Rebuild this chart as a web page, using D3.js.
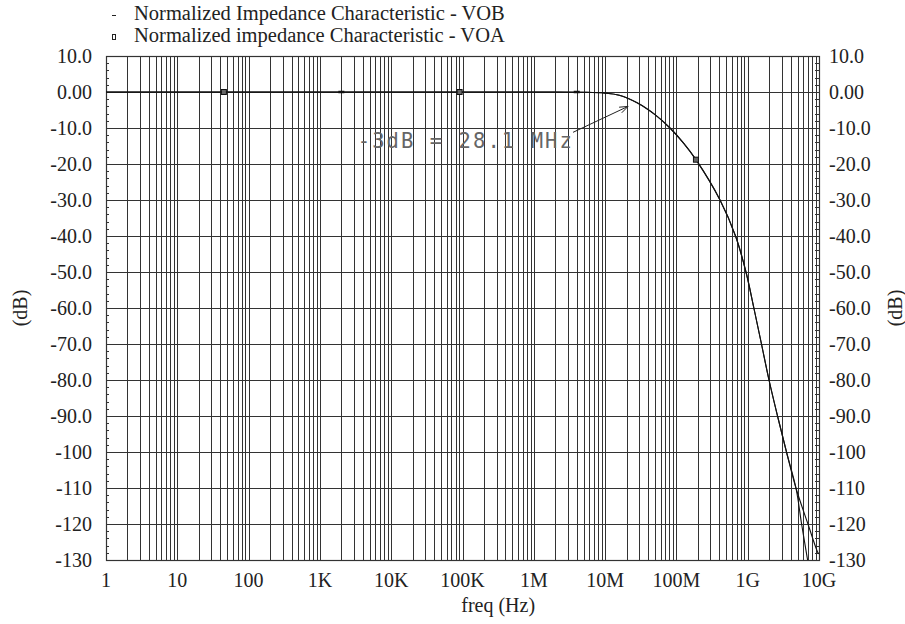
<!DOCTYPE html>
<html>
<head>
<meta charset="utf-8">
<script src="https://cdn.jsdelivr.net/npm/d3@7"></script>
<style>
  body { margin: 0; background: #fff; }
  svg { display: block; }
</style>
</head>
<body>
<div id="vis"></div>
<script>
// shared part of both traces (Hz, dB)
var freqShared = [1, 1e3, 1e5, 1e6, 5e6, 1e7, 1.58e7, 2.81e7, 5.01e7, 8.13e7, 1.26e8, 1.88e8, 4.09e8, 6.75e8, 9.46e8, 1.22e9, 1.56e9, 1.99e9, 2.62e9, 3.5e9, 4.75e9];
var dbShared   = [0, 0, 0, 0, -0.05, -0.3, -0.9, -3, -6.3, -10, -14.2, -18.8, -30, -40, -50, -60, -70, -80, -90, -100, -110];
// tails where the traces split
var freqVOA = [5.7e9, 6.84e9, 7.05e9];
var dbVOA   = [-120, -129.4, -131];
var freqVOB = [7.0e9, 9.68e9, 1e10];
var dbVOB   = [-120, -128, -128.3];
// marker positions
var markVOA = [[45, 0], [9.1e4, 0], [1.88e8, -18.8]];
var markVOB = [[2e3, 0], [4e6, 0]];

var decadeLabels = ["1", "10", "100", "1K", "10K", "100K", "1M", "10M", "100M", "1G", "10G"];
var yTicks = [10, 0, -10, -20, -30, -40, -50, -60, -70, -80, -90, -100, -110, -120, -130];
var yTickLabels = ["10.0", "0.00", "-10.0", "-20.0", "-30.0", "-40.0", "-50.0", "-60.0", "-70.0", "-80.0", "-90.0", "-100", "-110", "-120", "-130"];
var legendNames = ["Normalized Impedance Characteristic - VOB", "Normalized impedance Characteristic - VOA"];
var note = {text: "-3dB = 28.1 MHz", textF: 3.4e3, textDb: -15.6, tailF: 3.55e6, tailDb: -11.2, tipF: 2.1e7, tipDb: -4};

var serif = "'Liberation Serif', 'Times New Roman', serif";
var margin = {top: 56, right: 86, bottom: 64, left: 106};
var W = 905, H = 624;
var width = W - margin.left - margin.right;
var height = H - margin.top - margin.bottom;

var svg = d3.select("#vis").append("svg")
  .attr("width", W)
  .attr("height", H)
  .style("font-family", serif);

var x = d3.scaleLog().domain([1, 1e10]).range([0, width]);
var y = d3.scaleLinear().domain([-130, 10]).range([height, 0]);

var g = svg.append("g")
  .attr("transform", "translate(" + margin.left + "," + margin.top + ")");

svg.append("defs").append("clipPath").attr("id", "clip")
  .append("rect").attr("width", width).attr("height", height);

// vertical grid: every 1..9 per decade
var gridF = [];
for (var d = 0; d < 10; d++) for (var k = 1; k < 10; k++) gridF.push(k * Math.pow(10, d));
gridF.push(1e10);

g.append("g").selectAll("line")
  .data(gridF)
  .enter().append("line")
    .attr("x1", function(f) { return Math.round(x(f)) + 0.5; })
    .attr("x2", function(f) { return Math.round(x(f)) + 0.5; })
    .attr("y1", 0).attr("y2", height)
    .attr("stroke", "#333").attr("stroke-width", 1);

g.append("g").selectAll("line")
  .data(yTicks)
  .enter().append("line")
    .attr("x1", 0).attr("x2", width)
    .attr("y1", function(v) { return Math.round(y(v)) + 0.5; })
    .attr("y2", function(v) { return Math.round(y(v)) + 0.5; })
    .attr("stroke", "#333").attr("stroke-width", 1);

// minor ticks every 2 dB, inside both borders
var minor = d3.range(-130, 10.1, 2);
g.append("g").selectAll("line")
  .data(minor)
  .enter().append("line")
    .attr("x1", 0).attr("x2", 3)
    .attr("y1", function(v) { return Math.round(y(v)) + 0.5; })
    .attr("y2", function(v) { return Math.round(y(v)) + 0.5; })
    .attr("stroke", "#333");
g.append("g").selectAll("line")
  .data(minor)
  .enter().append("line")
    .attr("x1", width - 4).attr("x2", width)
    .attr("y1", function(v) { return Math.round(y(v)) + 0.5; })
    .attr("y2", function(v) { return Math.round(y(v)) + 0.5; })
    .attr("stroke", "#333");

g.append("rect")
  .attr("x", 0.5).attr("y", 0.5)
  .attr("width", width).attr("height", height)
  .attr("fill", "none").attr("stroke", "#333").attr("stroke-width", 1.2);

// tick labels
g.append("g").selectAll("text")
  .data(decadeLabels)
  .enter().append("text")
    .attr("x", function(t, i) { return x(Math.pow(10, i)); })
    .attr("y", height + 27)
    .attr("text-anchor", "middle")
    .attr("font-size", 20)
    .attr("fill", "#222")
    .text(function(t) { return t; });

g.append("g").selectAll("text")
  .data(yTicks)
  .enter().append("text")
    .attr("x", -14)
    .attr("y", function(v) { return y(v) + 7; })
    .attr("text-anchor", "end")
    .attr("font-size", 20)
    .attr("fill", "#222")
    .text(function(v, i) { return yTickLabels[i]; });

g.append("g").selectAll("text")
  .data(yTicks)
  .enter().append("text")
    .attr("x", width + 10)
    .attr("y", function(v) { return y(v) + 7; })
    .attr("text-anchor", "start")
    .attr("font-size", 20)
    .attr("fill", "#222")
    .text(function(v, i) { return yTickLabels[i]; });

// axis titles
svg.append("text")
  .attr("x", margin.left + x(Math.sqrt(1e9) * 10) )
  .attr("y", 612)
  .attr("text-anchor", "middle")
  .attr("font-size", 20)
  .attr("fill", "#222")
  .text("freq (Hz)");

svg.append("text")
  .attr("transform", "translate(27," + (margin.top + height / 2) + ") rotate(-90)")
  .attr("text-anchor", "middle")
  .attr("font-size", 20)
  .attr("fill", "#222")
  .text("(dB)");

svg.append("text")
  .attr("transform", "translate(902," + (margin.top + height / 2) + ") rotate(-90)")
  .attr("text-anchor", "middle")
  .attr("font-size", 20)
  .attr("fill", "#222")
  .text("(dB)");

// traces
var line = d3.line()
  .x(function(p) { return x(p[0]); })
  .y(function(p) { return y(p[1]); })
  .curve(d3.curveCatmullRom.alpha(0.5));

function zip(fs, ds) { return fs.map(function(f, i) { return [f, ds[i]]; }); }
var shared = zip(freqShared, dbShared);
var traces = [shared.concat(zip(freqVOB, dbVOB)), shared.concat(zip(freqVOA, dbVOA))];

var plot = g.append("g").attr("clip-path", "url(#clip)");
plot.selectAll("path")
  .data(traces)
  .enter().append("path")
    .attr("d", line)
    .attr("fill", "none")
    .attr("stroke", "#111")
    .attr("stroke-width", 1.1);

plot.selectAll(".mA")
  .data(markVOA)
  .enter().append("rect")
    .attr("class", "mA")
    .attr("x", function(p) { return x(p[0]) - 2.5; })
    .attr("y", function(p) { return y(p[1]) - 2.5; })
    .attr("width", 5).attr("height", 5)
    .attr("fill", "#666").attr("stroke", "#111").attr("stroke-width", 1);

plot.selectAll(".mB")
  .data(markVOB)
  .enter().append("line")
    .attr("class", "mB")
    .attr("x1", function(p) { return x(p[0]) - 3; })
    .attr("x2", function(p) { return x(p[0]) + 3; })
    .attr("y1", function(p) { return y(p[1]); })
    .attr("y2", function(p) { return y(p[1]); })
    .attr("stroke", "#111").attr("stroke-width", 2.5);

// annotation in a plotter-like monospace
g.append("text")
  .attr("x", x(note.textF))
  .attr("y", y(note.textDb))
  .attr("font-size", 20.5)
  .attr("textLength", 214)
  .attr("lengthAdjust", "spacing")
  .style("font-family", "'DejaVu Sans Mono'")
  .style("fill", "#666")
  .text(note.text);

var tx = x(note.tipF), ty = y(note.tipDb), sx = x(note.tailF), sy = y(note.tailDb);
var ang = Math.atan2(ty - sy, tx - sx);
g.append("path")
  .attr("d", "M" + sx + "," + sy + "L" + tx + "," + ty +
    "M" + (tx - 9 * Math.cos(ang - 0.35)) + "," + (ty - 9 * Math.sin(ang - 0.35)) +
    "L" + tx + "," + ty +
    "L" + (tx - 9 * Math.cos(ang + 0.35)) + "," + (ty - 9 * Math.sin(ang + 0.35)))
  .attr("fill", "none")
  .attr("stroke", "#222")
  .attr("stroke-width", 1);

// legend
var legend = svg.append("g").selectAll("g")
  .data(legendNames)
  .enter().append("g")
    .attr("transform", function(t, i) { return "translate(0," + (i * 22) + ")"; });

legend.append("text")
  .attr("x", 134)
  .attr("y", 20)
  .attr("font-size", 20.5)
  .attr("fill", "#222")
  .text(function(t) { return t; });

legend.filter(function(t, i) { return i === 0; }).append("line")
  .attr("x1", 112).attr("x2", 116)
  .attr("y1", 15.5).attr("y2", 15.5)
  .attr("stroke", "#222").attr("stroke-width", 1);

legend.filter(function(t, i) { return i === 1; }).append("rect")
  .attr("x", 112.5).attr("y", 12.5)
  .attr("width", 3).attr("height", 5)
  .attr("fill", "none").attr("stroke", "#222").attr("stroke-width", 1);
</script>
</body>
</html>
